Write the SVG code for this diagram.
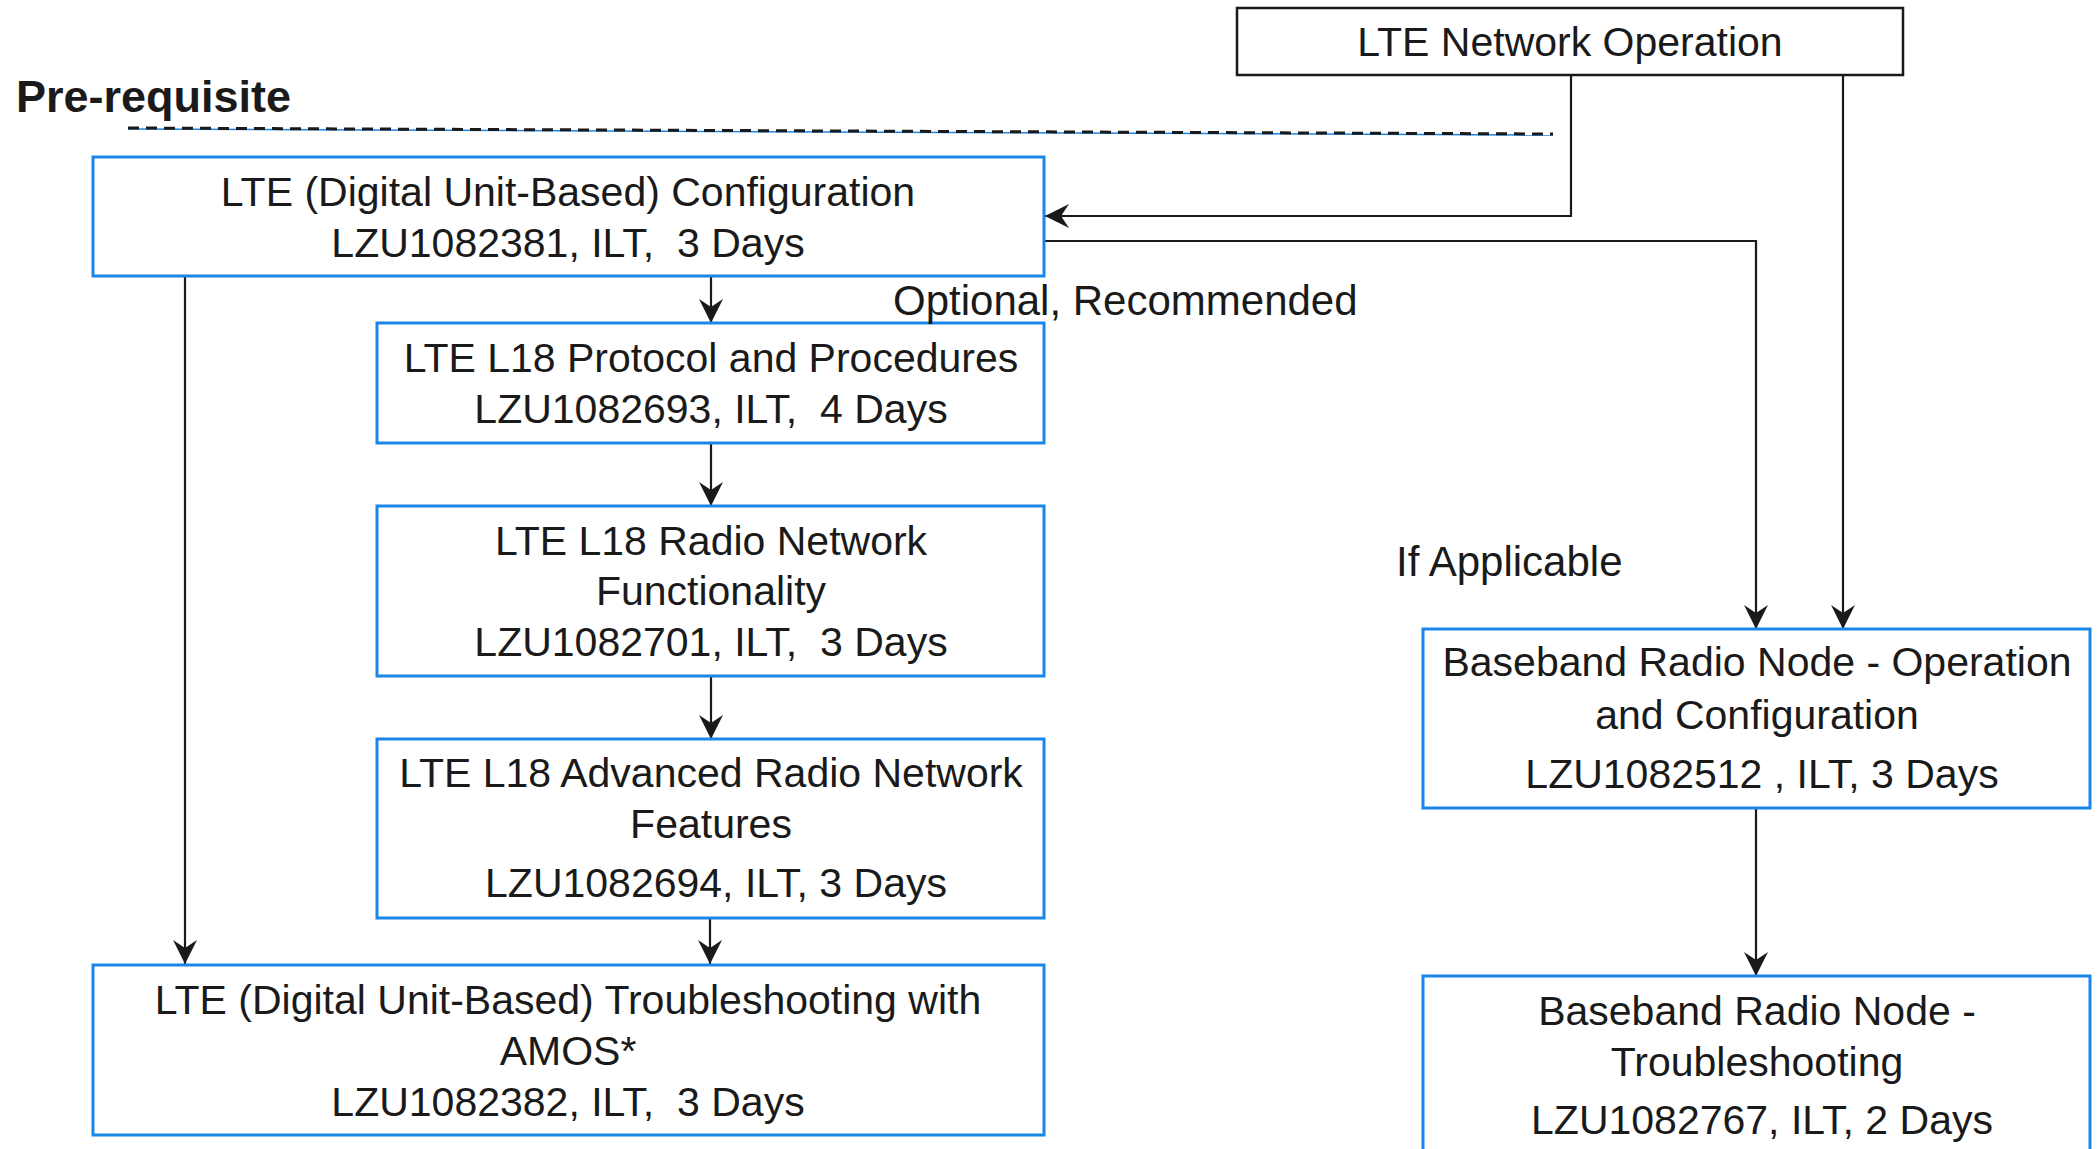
<svg xmlns="http://www.w3.org/2000/svg" width="2098" height="1149" viewBox="0 0 2098 1149">
<style>
.box{fill:#fff;stroke:#1a86e8;stroke-width:3}
.boxk{fill:#fff;stroke:#1a1a1a;stroke-width:2.5}
.t{font-family:"Liberation Sans",Arial,sans-serif;font-size:41px;fill:#1a1a1a;text-anchor:middle;white-space:pre}
.lbl{font-family:"Liberation Sans",Arial,sans-serif;font-size:42px;fill:#1a1a1a}
.conn{fill:none;stroke:#1a1a1a;stroke-width:2.2}
</style>
<defs>
<marker id="arr" markerUnits="userSpaceOnUse" viewBox="0 0 24 24" refX="24" refY="12" markerWidth="24" markerHeight="24" orient="auto">
<path d="M0,0 L24,12 L0,24 L8,12 Z" fill="#1a1a1a"/>
</marker>
</defs>
<rect width="2098" height="1149" fill="#fff"/>

<g id="prereq">
<text x="16" y="112" style="font-family:'Liberation Sans',Arial,sans-serif;font-size:45px;font-weight:bold;fill:#1a1a1a">Pre-requisite</text>
<line x1="128" y1="129" x2="1553" y2="135" stroke="#1a86e8" stroke-width="1.5"/>
<line x1="128" y1="128" x2="1553" y2="134" stroke="#1a1a1a" stroke-width="3" stroke-dasharray="11 7"/>
</g>

<g id="connectors">
<path class="conn" d="M711,276 V323" marker-end="url(#arr)"/>
<path class="conn" d="M711,443 V506" marker-end="url(#arr)"/>
<path class="conn" d="M711,676 V739" marker-end="url(#arr)"/>
<path class="conn" d="M710,918 V964" marker-end="url(#arr)"/>
<path class="conn" d="M185,276 V964" marker-end="url(#arr)"/>
<path class="conn" d="M1571,75 V216 H1045" marker-end="url(#arr)"/>
<path class="conn" d="M1044,241 H1756 V629" marker-end="url(#arr)"/>
<path class="conn" d="M1843,75 V629" marker-end="url(#arr)"/>
<path class="conn" d="M1756,808 V976" marker-end="url(#arr)"/>
</g>

<g id="node-netop">
<rect class="boxk" x="1237" y="8" width="666" height="67"/>
<text class="t" x="1570" y="56">LTE Network Operation</text>
</g>

<g id="node-config">
<rect class="box" x="93" y="157" width="951" height="119"/>
<text class="t" x="568" y="206">LTE (Digital Unit-Based) Configuration</text>
<text class="t" x="568" y="257">LZU1082381, ILT,  3 Days</text>
</g>

<g id="node-protocol">
<rect class="box" x="377" y="323" width="667" height="120"/>
<text class="t" x="711" y="372">LTE L18 Protocol and Procedures</text>
<text class="t" x="711" y="423">LZU1082693, ILT,  4 Days</text>
</g>

<g id="node-radio">
<rect class="box" x="377" y="506" width="667" height="170"/>
<text class="t" x="711" y="555">LTE L18 Radio Network</text>
<text class="t" x="711" y="605">Functionality</text>
<text class="t" x="711" y="656">LZU1082701, ILT,  3 Days</text>
</g>

<g id="node-advanced">
<rect class="box" x="377" y="739" width="667" height="179"/>
<text class="t" x="711" y="787">LTE L18 Advanced Radio Network</text>
<text class="t" x="711" y="838">Features</text>
<text class="t" x="716" y="897">LZU1082694, ILT, 3 Days</text>
</g>

<g id="node-troubleshoot">
<rect class="box" x="93" y="965" width="951" height="170"/>
<text class="t" x="568" y="1014">LTE (Digital Unit-Based) Troubleshooting with</text>
<text class="t" x="568" y="1065">AMOS*</text>
<text class="t" x="568" y="1116">LZU1082382, ILT,  3 Days</text>
</g>

<g id="node-brn-op">
<rect class="box" x="1423" y="629" width="667" height="179"/>
<text class="t" x="1757" y="676">Baseband Radio Node - Operation</text>
<text class="t" x="1757" y="729">and Configuration</text>
<text class="t" x="1762" y="788">LZU1082512 , ILT, 3 Days</text>
</g>

<g id="node-brn-ts">
<rect class="box" x="1423" y="976" width="667" height="190"/>
<text class="t" x="1757" y="1025">Baseband Radio Node -</text>
<text class="t" x="1757" y="1076">Troubleshooting</text>
<text class="t" x="1762" y="1134">LZU1082767, ILT, 2 Days</text>
</g>

<g id="labels">
<text class="lbl" x="893" y="315">Optional, Recommended</text>
<text class="lbl" x="1396" y="576">If Applicable</text>
</g>
</svg>
